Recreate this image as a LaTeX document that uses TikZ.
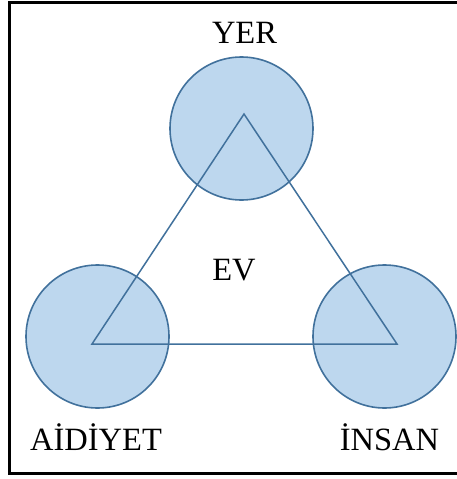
\documentclass[tikz,border=0pt]{standalone}
\usepackage{fontspec}
\setmainfont{Liberation Serif}
\definecolor{bubblefill}{HTML}{BDD7EE}
\definecolor{bubbleline}{HTML}{41719C}
\begin{document}
\begin{tikzpicture}[x=1pt,y=-1pt,
  bubble/.style={circle,draw=bubbleline,fill=bubblefill,line width=1.6pt,minimum size=143pt,inner sep=0pt},
  edge/.style={draw=bubbleline,line width=1.5pt},
  label/.style={anchor=base,inner sep=0pt,font=\fontsize{32.5}{32.5}\selectfont}]
\useasboundingbox (0,0) rectangle (456,479);
\draw[line width=2.8pt] (9.5,2.5) rectangle (470,473.5);
\node[bubble] (yer) at (241.5,128.5) {};
\node[bubble] (aidiyet) at (97.5,336.5) {};
\node[bubble] (insan) at (384.5,336.5) {};
\coordinate (top) at (244,114);
\coordinate (left) at (92,344);
\coordinate (right) at (397,344);
\draw[edge] (top) -- (left) -- (right) -- cycle;
\node[label] (yerlbl) at (244.5,43) {YER};
\node[label] (ev) at (234,280) {EV};
\node[label] (aidiyetlbl) at (96,450) {AİDİYET};
\node[label] (insanlbl) at (389.5,450) {İNSAN};
\end{tikzpicture}
\end{document}
